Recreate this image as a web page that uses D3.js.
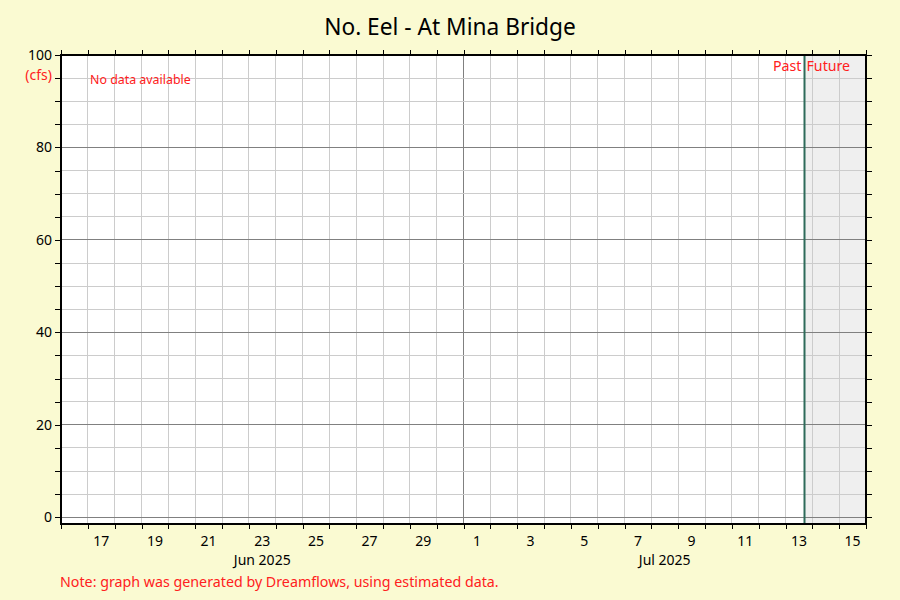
<!DOCTYPE html>
<html><head><meta charset="utf-8">
<script src="https://cdn.jsdelivr.net/npm/d3@7"></script>
<style>body{margin:0;background:#fafad2;}svg{display:block;font-family:"Noto Sans",sans-serif;}</style>
</head><body>
<script>
const title = "No. Eel - At Mina Bridge";
const unitLabel = "(cfs)";
const noDataText = "No data available";
const noteText = "Note: graph was generated by Dreamflows, using estimated data.";
const flowValues = []; // no data available
const xStart = "2025-06-16T00:00Z";
const xEnd = "2025-07-16T00:00Z";
const nowTime = "2025-07-13T17:00Z";
const yDomain = [-1.45, 100];
const yMajorTicks = [0, 20, 40, 60, 80, 100];
const yMinorStep = 5;
const dayLabelDays = [17,19,21,23,25,27,29,1,3,5,7,9,11,13,15];
const dayLabelMonths = [6,6,6,6,6,6,6,7,7,7,7,7,7,7,7];
const monthLabels = ["Jun 2025", "Jul 2025"];
const monthStarts = ["2025-06-16T00:00Z", "2025-07-01T00:00Z"];
const monthEnds = ["2025-07-01T00:00Z", "2025-07-16T00:00Z"];

const W = 900, H = 600;
const L = 61, R = 866, T = 55, B = 524;
const svg = d3.select("body").append("svg").attr("width", W).attr("height", H);
svg.append("rect").attr("width", W).attr("height", H).attr("fill", "#fafad2");

const x = d3.scaleUtc().domain([new Date(xStart), new Date(xEnd)]).range([L, R]);
const y = d3.scaleLinear().domain(yDomain).range([B, T]);

svg.append("rect").attr("x", L).attr("y", T).attr("width", R - L).attr("height", B - T).attr("fill", "#ffffff");
svg.append("rect").attr("x", x(new Date(nowTime))).attr("y", T)
  .attr("width", R - x(new Date(nowTime))).attr("height", B - T).attr("fill", "#efefef");

const days = d3.utcDay.range(new Date(xStart), new Date(xEnd));
const minorY = d3.range(0, 100 + 0.001, yMinorStep);
const g = svg.append("g");
g.selectAll(".vg").data(days.slice(1)).enter().append("line")
  .attr("x1", d => x(d)).attr("x2", d => x(d)).attr("y1", T).attr("y2", B)
  .attr("stroke", d => d.getUTCDate() === 1 ? "#808080" : "#cccccc").attr("stroke-width", 1)
  .attr("shape-rendering", "crispEdges");
g.selectAll(".hg").data(minorY).enter().append("line")
  .attr("x1", L).attr("x2", R).attr("y1", d => y(d)).attr("y2", d => y(d))
  .attr("stroke", d => yMajorTicks.includes(d) && d !== 100 ? "#808080" : "#cccccc").attr("stroke-width", 1)
  .attr("shape-rendering", "crispEdges");

// now line
svg.append("line").attr("x1", x(new Date(nowTime))).attr("x2", x(new Date(nowTime)))
  .attr("y1", T).attr("y2", B).attr("stroke", "#2e6b5a").attr("stroke-width", 2);

// frame
svg.append("rect").attr("x", L).attr("y", T).attr("width", R - L).attr("height", B - T)
  .attr("fill", "none").attr("stroke", "#000").attr("stroke-width", 2);

// axes ticks
const tickAttrs = sel => sel.call(s => s.select(".domain").remove())
  .call(s => s.selectAll(".tick line").attr("stroke", "#000").attr("shape-rendering", "crispEdges"));
svg.append("g").attr("transform", `translate(0,${B})`)
  .call(d3.axisBottom(x).tickValues(days.concat([new Date(xEnd)])).tickSize(5).tickFormat("")).call(tickAttrs);
svg.append("g").attr("transform", `translate(0,${T})`)
  .call(d3.axisTop(x).tickValues(days.concat([new Date(xEnd)])).tickSize(5).tickFormat("")).call(tickAttrs);
svg.append("g").attr("transform", `translate(${L},0)`)
  .call(d3.axisLeft(y).tickValues(minorY).tickSize(6).tickFormat("")).call(tickAttrs);
svg.append("g").attr("transform", `translate(${R},0)`)
  .call(d3.axisRight(y).tickValues(minorY).tickSize(6).tickFormat("")).call(tickAttrs);

// y labels
svg.selectAll(".yl").data(yMajorTicks).enter().append("text")
  .attr("x", 52).attr("y", d => y(d) + 5).attr("text-anchor", "end")
  .attr("font-size", 14).attr("fill", "#000").text(d => d);
svg.append("text").attr("x", 52).attr("y", 80).attr("text-anchor", "end")
  .attr("font-size", 14).attr("fill", "#ff2020").text(unitLabel);

// x day labels at noon
svg.selectAll(".xl").data(dayLabelDays).enter().append("text")
  .attr("x", (d, i) => x(new Date(Date.UTC(2025, dayLabelMonths[i] - 1, d, 12))))
  .attr("y", 546).attr("text-anchor", "middle").attr("font-size", 14).attr("fill", "#000").text(d => d);
svg.selectAll(".ml").data(monthLabels).enter().append("text")
  .attr("x", (d, i) => (x(new Date(monthStarts[i])) + x(new Date(monthEnds[i]))) / 2)
  .attr("y", 565).attr("text-anchor", "middle").attr("font-size", 14).attr("fill", "#000").text(d => d);

// data (none)
svg.append("path").datum(flowValues).attr("fill", "none").attr("stroke", "#0000ff")
  .attr("d", d3.line().x(d => x(new Date(d[0]))).y(d => y(d[1])));

svg.append("text").attr("x", 90).attr("y", 84).attr("font-size", 12.4).attr("fill", "#ff2020").text(noDataText);
svg.append("text").attr("x", x(new Date(nowTime)) - 3).attr("y", 71).attr("text-anchor", "end")
  .attr("font-size", 14.2).attr("fill", "#ff2020").text("Past");
svg.append("text").attr("x", x(new Date(nowTime)) + 2).attr("y", 71).attr("text-anchor", "start")
  .attr("font-size", 14.2).attr("fill", "#ff2020").text("Future");

svg.append("text").attr("x", W / 2).attr("y", 35).attr("text-anchor", "middle")
  .attr("font-size", 22.7).attr("fill", "#000").text(title);
svg.append("text").attr("x", 60).attr("y", 587).attr("font-size", 14.25).attr("fill", "#ff2020").text(noteText);
</script>
</body></html>
